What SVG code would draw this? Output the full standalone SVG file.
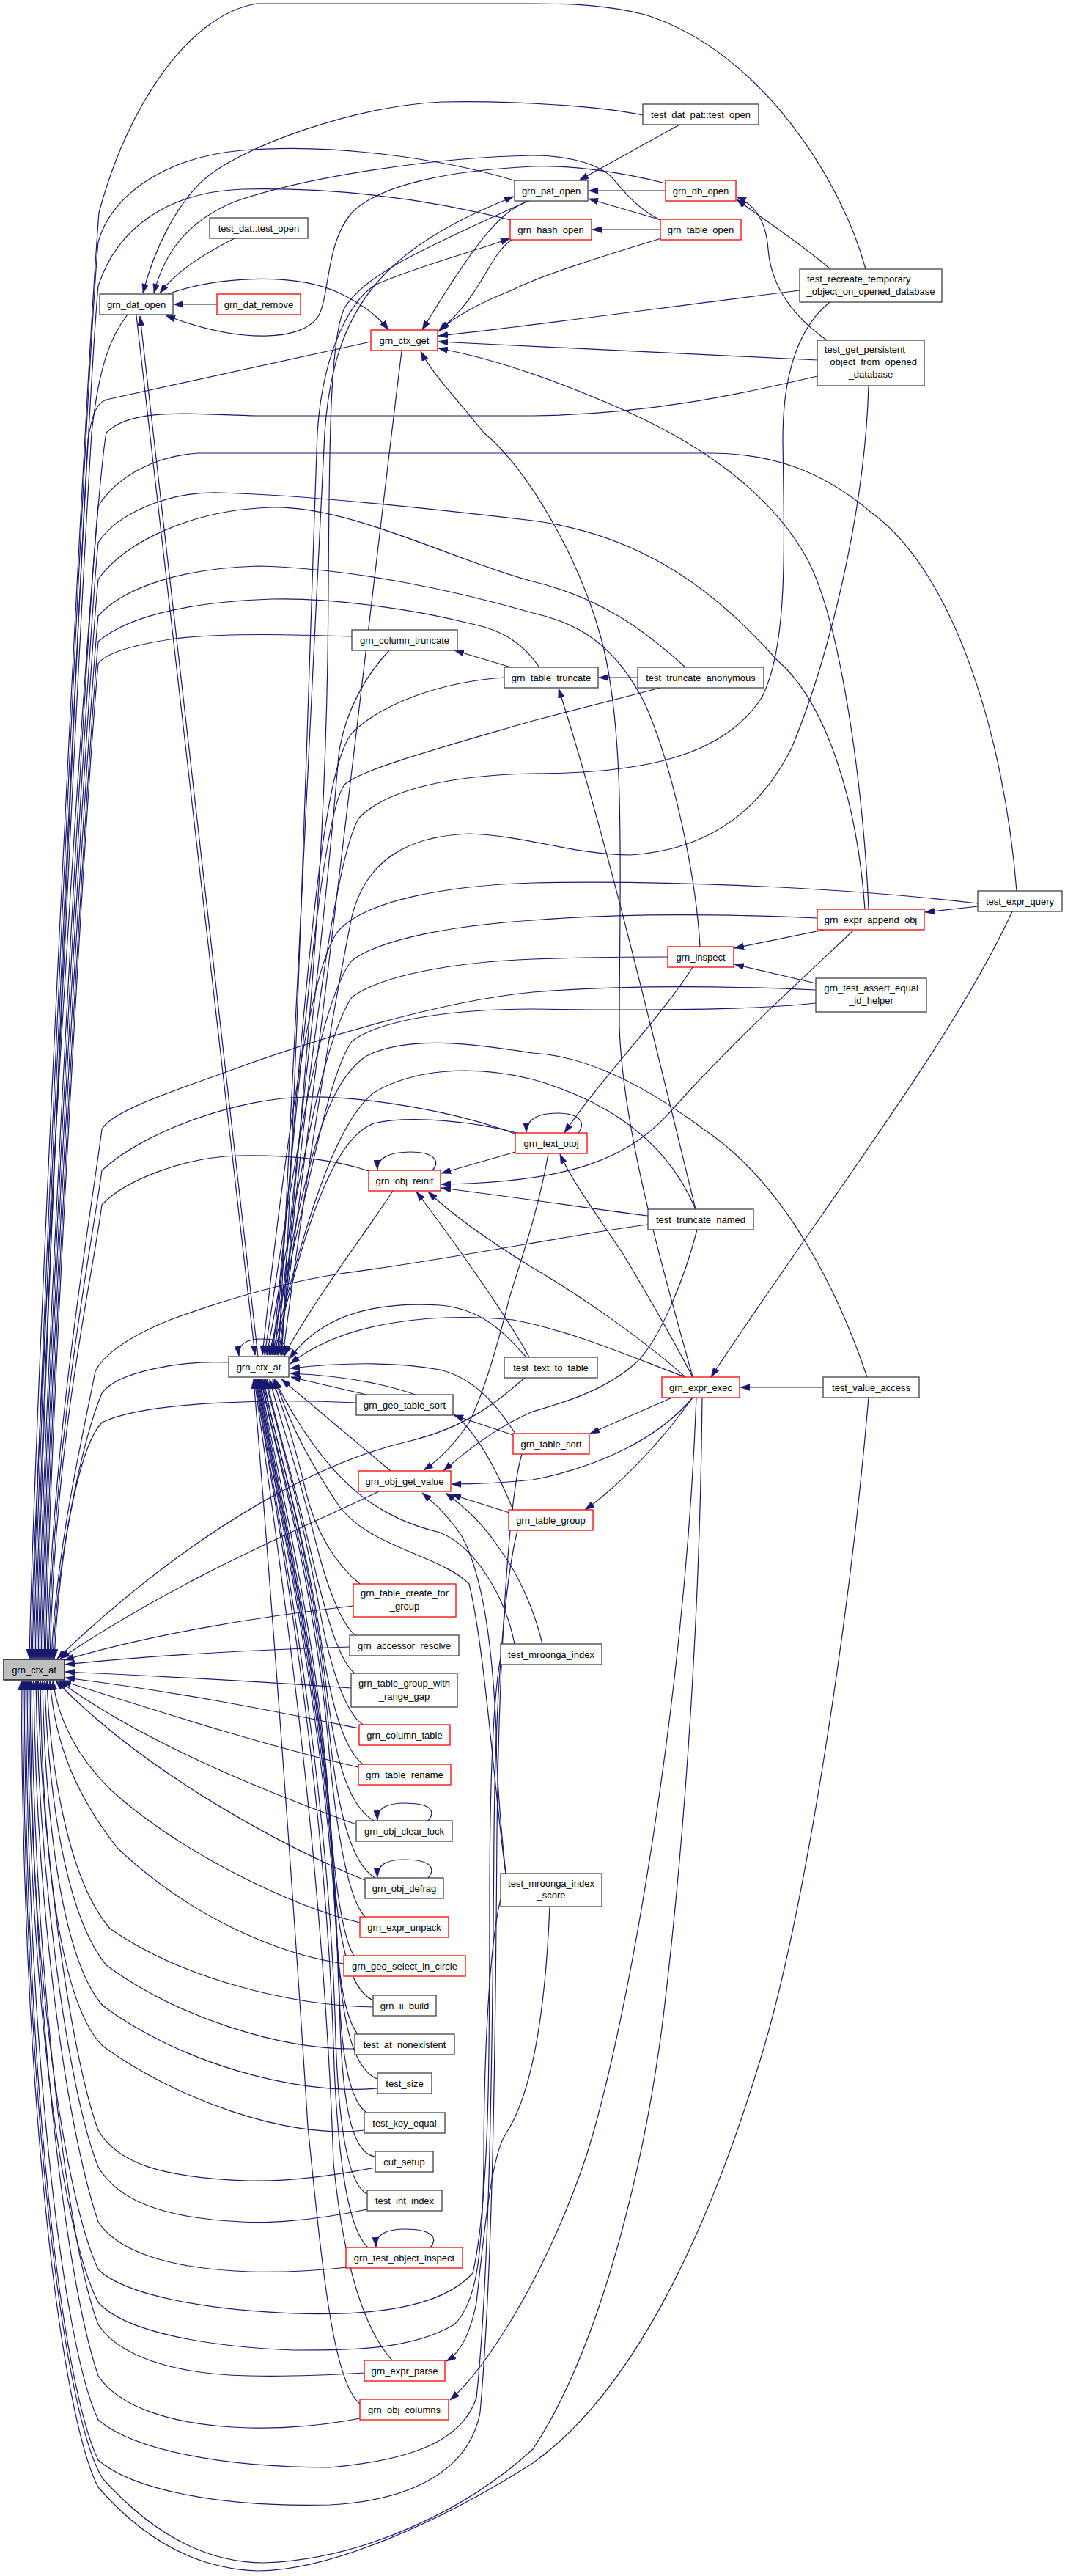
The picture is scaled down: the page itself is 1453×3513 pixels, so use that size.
<svg xmlns="http://www.w3.org/2000/svg" width="1453" height="3513" viewBox="0 0 1453 3513">
<style>
.e{fill:none;stroke:#191970;stroke-width:1.2;marker-end:url(#ah)}
.b{fill:#fff;stroke:#404040;stroke-width:1.3}
.r{fill:#fff;stroke:#ff0000;stroke-width:1.3}
.f{fill:#bfbfbf;stroke:#000;stroke-width:1.3}
text{font-family:"Liberation Sans",Arial,Helvetica,sans-serif;font-size:13px;fill:#000;text-anchor:middle}
text.s{text-anchor:start}
</style>
<defs>
<marker id="ah" markerWidth="13" markerHeight="9" refX="13" refY="4.5" orient="auto" markerUnits="userSpaceOnUse">
<path d="M0,0 L13,4.5 L0,9 z" fill="#191970" stroke="#191970" stroke-width="0.5"/>
</marker>
</defs>
<rect width="1453" height="3513" fill="#fff"/>
<g id="edges">
<!-- into focus grn_ctx_at (top side) -->
<path class="e" d="M1181,367 C1150,250 1040,70 880,20 C830,7 780,5 727,5 L350,5 C260,20 175,140 135,290 C115,540 48,1900 40,2262"/>
<path class="e" d="M1115,513 C1000,540 880,565 727,567 L350,567 C260,565 180,555 145,590 C125,700 50,1900 42,2262"/>
<path class="e" d="M705,247 C600,215 450,195 330,205 C220,215 150,270 134,330 C118,500 52,1900 44,2262"/>
<path class="e" d="M705,302 C600,275 470,255 330,258 C230,262 160,310 134,390 C118,560 54,1900 46,2262"/>
<path class="e" d="M174,429 C150,460 135,500 125,590 C112,800 56,1900 48,2262"/>
<path class="e" d="M506,466 L145,545 C130,550 125,570 120,600 C108,800 58,1900 50,2262"/>
<path class="e" d="M1387,1215 C1370,1000 1300,780 1190,700 C1120,640 1050,618 968,618 L270,618 C210,622 160,650 134,690 C118,850 60,1900 52,2262"/>
<path class="e" d="M1180,1240 C1170,1100 1130,960 1060,900 C980,810 880,730 727,710 C600,695 420,675 300,672 C230,670 160,700 134,740 C118,900 62,1900 54,2262"/>
<path class="e" d="M935,910 C880,860 820,815 727,793 C620,765 480,690 371,692 C260,695 170,740 134,790 C118,950 64,1900 56,2262"/>
<path class="e" d="M955,1291 C950,1200 920,1050 880,960 C840,880 790,850 727,836 C620,805 480,775 352,772 C250,775 170,800 134,840 C118,1000 66,1900 58,2262"/>
<path class="e" d="M736,910 C715,880 690,860 640,850 C560,830 450,815 371,817 C280,820 180,835 134,875 C118,1050 68,1900 60,2262"/>
<path class="e" d="M480,868 C420,866 300,862 232,872 C180,880 145,890 134,905 C118,1080 70,1900 62,2262"/>
<path class="e" d="M1113,1350 C1000,1345 850,1343 727,1353 C600,1365 420,1420 300,1465 C200,1500 150,1520 139,1540 C125,1650 72,1950 64,2262"/>
<path class="e" d="M705,1547 C620,1515 500,1495 417,1496 C330,1497 200,1540 139,1596 C125,1700 74,1950 66,2262"/>
<path class="e" d="M503,1597 C460,1582 400,1575 325,1576 C250,1578 170,1610 139,1643 C125,1750 76,1950 68,2262"/>
<path class="e" d="M884,1670 C800,1680 600,1720 464,1737 C380,1750 300,1775 232,1800 C170,1825 140,1850 130,1870 C115,1950 78,2100 70,2262"/>
<path class="e" d="M312,1858 C250,1855 160,1870 139,1900 C118,1950 80,2100 72,2262"/>
<path class="e" d="M486,1913 C380,1908 200,1910 139,1940 C110,1970 82,2100 74,2262"/>
<path class="e" d="M716,1879 C680,1910 640,1945 560,1965 C450,1990 280,2070 78,2262"/>
<path class="e" d="M517,2034 C400,2090 250,2150 82,2262"/>
<path class="e" d="M482,2190 C350,2205 200,2230 88,2264"/>
<path class="e" d="M477,2246 C350,2250 200,2258 89,2270"/>
<path class="e" d="M479,2302 C350,2293 200,2285 89,2280"/>
<path class="e" d="M490,2357 C380,2335 250,2308 89,2288"/>
<!-- into focus grn_ctx_at (bottom side) -->
<path class="e" d="M489,2410 C380,2385 250,2345 84,2292"/>
<path class="e" d="M486,2488 C380,2450 200,2380 80,2292"/>
<path class="e" d="M500,2565 C390,2520 200,2420 76,2292"/>
<path class="e" d="M491,2622 C400,2600 250,2530 150,2440 C110,2400 80,2350 72,2292"/>
<path class="e" d="M469,2678 C380,2665 260,2615 160,2520 C105,2450 75,2380 68,2292"/>
<path class="e" d="M509,2737 C400,2735 250,2700 150,2630 C90,2560 68,2400 64,2292"/>
<path class="e" d="M484,2794 C380,2795 240,2750 145,2680 C80,2600 64,2400 61,2292"/>
<path class="e" d="M515,2848 C400,2858 240,2810 140,2735 C75,2660 60,2420 58,2292"/>
<path class="e" d="M497,2905 C390,2918 235,2860 140,2790 C70,2720 57,2450 55,2292"/>
<path class="e" d="M512,2956 C440,2970 380,2975 340,2974 C220,2970 160,2950 134,2905 C95,2800 55,2500 52,2292"/>
<path class="e" d="M501,3013 C420,3030 360,3032 330,3030 C220,3025 160,3000 134,2955 C92,2850 52,2550 49,2292"/>
<path class="e" d="M474,3092 C420,3098 380,3099 340,3098 C230,3094 160,3070 134,3030 C90,2900 49,2600 46,2292"/>
<path class="e" d="M497,3236 C430,3240 380,3241 340,3240 C230,3238 160,3210 134,3170 C88,3050 46,2650 43,2292"/>
<path class="e" d="M491,3298 C430,3310 380,3312 340,3311 C230,3308 160,3280 134,3240 C86,3100 43,2700 41,2292"/>
<path class="e" d="M683,2260 C672,2320 668,2450 668,2600 C668,2800 668,3000 645,3100 C600,3150 500,3158 400,3155 C280,3150 170,3130 134,3095 C90,3000 42,2700 39,2292"/>
<path class="e" d="M683,2590 C668,2650 660,2800 660,2950 C658,3080 650,3140 620,3170 C560,3205 480,3205 400,3205 C280,3200 170,3180 134,3140 C88,3050 40,2750 37,2292"/>
<path class="e" d="M706,2087 C690,2150 676,2300 674,2500 C672,2800 668,3100 650,3270 C630,3330 560,3355 450,3365 C300,3365 180,3340 134,3300 C86,3200 38,2800 35,2292"/>
<path class="e" d="M712,1983 C692,2050 680,2300 678,2500 C676,2800 672,3100 655,3290 C640,3370 560,3410 450,3416 C300,3420 180,3395 134,3355 C84,3250 36,2850 33,2292"/>
<path class="e" d="M958,1906 C955,2200 935,2500 905,2750 C880,2950 820,3200 727,3340 C640,3420 500,3490 360,3495 C260,3495 185,3430 140,3380 C90,3300 34,2900 31,2292"/>
<path class="e" d="M1185,1906 C1160,2200 1100,2600 1040,2800 C980,3000 880,3250 727,3359 C600,3440 450,3506 352,3506 C250,3503 180,3445 134,3392 C86,3300 32,2900 29,2292"/>
<!-- into middle grn_ctx_at -->
<path class="e" d="M186,430 L348,1848"/>
<path class="e" d="M352,1850 L191,431"/>
<path class="e" d="M548,479 C520,700 430,1500 380,1848"/>
<path class="e" d="M1132,412 C1085,450 1068,520 1068,600 C1070,750 1075,880 1040,950 C990,1030 880,1055 727,1055 C620,1057 530,1075 490,1115 C450,1180 405,1600 383,1848"/>
<path class="e" d="M1185,526 C1180,700 1130,900 1080,1020 C1030,1120 950,1160 860,1166 C780,1165 720,1140 640,1137 C560,1140 500,1170 480,1250 C440,1450 405,1700 386,1848"/>
<path class="e" d="M531,887 C500,920 470,970 462,1030 C440,1300 400,1600 378,1848"/>
<path class="e" d="M688,924 C600,930 520,960 480,1000 C440,1050 420,1300 375,1848"/>
<path class="e" d="M901,938 L727,983 C600,1020 490,1050 470,1070 C440,1110 415,1400 372,1848"/>
<path class="e" d="M1334,1232 C1150,1210 900,1200 727,1204 C600,1208 500,1230 464,1267 C430,1300 395,1500 358,1848"/>
<path class="e" d="M1115,1252 C1000,1247 850,1245 727,1255 C620,1262 520,1280 480,1310 C440,1360 405,1550 361,1848"/>
<path class="e" d="M911,1305 C850,1305 780,1306 727,1308 C620,1312 520,1330 480,1360 C440,1420 410,1600 364,1848"/>
<path class="e" d="M1113,1368 C1020,1378 850,1378 727,1376 C620,1376 520,1390 480,1420 C445,1470 415,1650 367,1848"/>
<path class="e" d="M1183,1878 C1150,1780 1080,1620 960,1540 C880,1480 800,1440 727,1436 C650,1425 560,1410 500,1440 C440,1480 415,1600 369,1848"/>
<path class="e" d="M949,1649 C920,1580 860,1510 727,1472 C640,1450 560,1460 510,1490 C460,1530 420,1650 371,1848"/>
<path class="e" d="M705,1545 C650,1530 560,1520 510,1532 C460,1550 420,1650 374,1848"/>
<path class="e" d="M536,1624 C500,1680 430,1770 388,1848"/>
<path class="e" d="M720,274 C600,330 500,370 470,420 C445,470 450,700 447,900 C440,1300 400,1600 384,1848"/>
<path class="e" d="M718,1851 C690,1820 660,1785 600,1780 C520,1775 440,1790 395,1853"/>
<path class="e" d="M935,1878 C860,1850 780,1815 700,1800 C600,1790 470,1800 396,1860"/>
<path class="e" d="M703,1955 C680,1920 650,1880 600,1868 C530,1855 450,1860 396,1866"/>
<path class="e" d="M700,2059 C680,2010 650,1950 615,1925 C560,1890 470,1876 396,1873"/>
<path class="e" d="M500,1902 L397,1878"/>
<path class="e" d="M533,2006 L384,1881"/>
<path class="e" d="M702,2242 C690,2180 650,2110 600,2090 C520,2070 450,2030 374,1881"/>
<path class="e" d="M690,2555 C675,2450 662,2250 640,2160 C600,2120 500,2110 460,2050 C420,1990 390,1930 376,1881"/>
<path class="e" d="M491,2160 C460,2135 430,2090 417,2033 C400,1960 385,1920 372,1881"/>
<path class="e" d="M485,2230 C465,2215 445,2160 430,2100 C405,2000 380,1930 368,1881"/>
<path class="e" d="M484,2282 C462,2265 445,2200 432,2150 C405,2030 375,1940 364,1881"/>
<path class="e" d="M495,2352 C470,2335 450,2270 437,2200 C410,2050 375,1940 362,1881"/>
<path class="e" d="M495,2406 C468,2385 452,2320 440,2250 C415,2080 370,1950 360,1881"/>
<path class="e" d="M510,2483 C470,2460 455,2380 445,2300 C420,2100 372,1950 358,1881"/>
<path class="e" d="M512,2561 C475,2540 458,2450 448,2350 C425,2120 370,1960 357,1881"/>
<path class="e" d="M498,2614 C475,2590 460,2500 450,2400 C430,2150 370,1960 356,1881"/>
<path class="e" d="M483,2667 C465,2640 455,2550 448,2450 C430,2200 368,1970 355,1881"/>
<path class="e" d="M509,2728 C470,2710 458,2620 452,2500 C435,2250 368,1980 354,1881"/>
<path class="e" d="M488,2774 C465,2745 458,2660 455,2550 C440,2280 366,1980 353,1881"/>
<path class="e" d="M515,2835 C475,2820 462,2730 458,2600 C445,2300 366,1985 352,1881"/>
<path class="e" d="M500,2881 C470,2860 463,2770 460,2650 C448,2320 365,1990 351,1881"/>
<path class="e" d="M512,2941 C480,2938 465,2870 463,2720 C452,2350 365,1995 350,1881"/>
<path class="e" d="M501,2992 C475,2980 462,2900 458,2780 C448,2380 365,2000 349,1881"/>
<path class="e" d="M502,3065 C475,3040 462,2950 456,2820 C445,2400 365,2000 348,1881"/>
<path class="e" d="M535,3219 C500,3180 470,3100 455,2950 C440,2500 370,2050 347,1881"/>
<path class="e" d="M491,3278 C455,3250 440,3100 420,2900 C395,2500 360,2050 346,1881"/>
<path class="e" d="M388,1850 C395,1836 388,1826 358,1826 C335,1826 324,1834 326,1849"/>
<!-- from middle grn_ctx_at -->
<path class="e" d="M380,1849 C400,1500 430,800 443,590 C455,420 520,340 701,268"/>
<path class="e" d="M384,1849 C405,1500 425,800 433,590 C440,480 480,400 520,385 C580,360 640,345 696,325"/>
<!-- into grn_ctx_get -->
<path class="e" d="M229,401 C290,378 400,370 464,400 C495,415 515,430 530,450"/>
<path class="e" d="M722,274 C690,285 660,310 576,450"/>
<path class="e" d="M698,327 C665,350 660,400 600,450"/>
<path class="e" d="M902,325 C820,350 740,375 700,395 C650,415 620,432 598,452"/>
<path class="e" d="M1091,396 C900,420 720,445 598,458"/>
<path class="e" d="M1115,491 C900,482 700,470 598,466"/>
<path class="e" d="M1185,1240 C1180,1100 1150,850 1100,760 C1050,670 950,600 830,550 C760,520 680,490 598,475"/>
<path class="e" d="M945,1878 C910,1750 850,1550 845,1400 C845,1200 855,1000 820,870 C790,760 720,640 660,590 C620,540 590,510 574,479"/>
<!-- into grn_dat_open -->
<path class="e" d="M877,157 C820,145 700,137 603,139 C480,145 330,200 278,245 C240,280 210,340 195,400"/>
<path class="e" d="M901,300 C870,285 850,260 835,242 C810,218 760,212 727,212 C600,214 420,240 320,275 C260,300 225,340 210,400"/>
<path class="e" d="M908,250 C850,235 780,225 727,227 C620,232 520,250 480,290 C445,330 450,400 435,430 C415,465 330,470 226,430"/>
<path class="e" d="M320,325 C280,345 240,370 218,400"/>
<path class="e" d="M296,415 L237,415"/>
<!-- top cluster -->
<path class="e" d="M927,170 L790,246"/>
<path class="e" d="M908,260 L803,260"/>
<path class="e" d="M902,300 L803,271"/>
<path class="e" d="M901,313 L808,313"/>
<path class="e" d="M1133,367 C1090,330 1050,305 1005,272"/>
<path class="e" d="M1128,464 C1080,430 1052,390 1048,340 C1045,300 1030,280 1005,268"/>
<!-- truncate cluster -->
<path class="e" d="M697,910 L620,887"/>
<path class="e" d="M870,924 L817,924"/>
<path class="e" d="M949,1649 C900,1450 830,1150 762,939"/>
<!-- expr cluster -->
<path class="e" d="M1334,1236 L1262,1244"/>
<path class="e" d="M1381,1243 C1300,1420 1120,1650 970,1878"/>
<path class="e" d="M1124,1268 L1002,1293"/>
<path class="e" d="M1113,1341 L1002,1315"/>
<path class="e" d="M945,1319 C900,1390 820,1470 770,1545"/>
<path class="e" d="M1123,1892 L1010,1892"/>
<!-- into grn_obj_reinit -->
<path class="e" d="M703,1571 L602,1600"/>
<path class="e" d="M1164,1269 C1100,1330 1000,1420 920,1510 C860,1580 780,1612 602,1615"/>
<path class="e" d="M884,1658 C820,1650 720,1635 602,1620"/>
<path class="e" d="M722,1851 C700,1810 640,1720 568,1625"/>
<path class="e" d="M935,1878 C870,1820 780,1760 727,1729 C680,1700 620,1660 584,1625"/>
<path class="e" d="M590,1596 C600,1585 595,1571 560,1571 C530,1571 514,1580 515,1595"/>
<!-- grn_text_otoj -->
<path class="e" d="M789,1545 C800,1530 790,1518 760,1518 C735,1518 718,1526 718,1544"/>
<path class="e" d="M945,1878 C920,1830 880,1760 850,1710 C810,1650 780,1610 764,1574"/>
<!-- sort / group / get_value -->
<path class="e" d="M700,1957 L619,1930"/>
<path class="e" d="M917,1906 L805,1955"/>
<path class="e" d="M945,1906 C900,1970 840,2030 798,2059"/>
<path class="e" d="M945,1906 C900,1960 820,2000 727,2018 C680,2023 650,2024 616,2024"/>
<path class="e" d="M951,1677 C935,1740 900,1830 866,1860 C820,1900 760,1915 727,1925 C680,1945 640,1975 605,2006"/>
<path class="e" d="M748,1573 C735,1650 710,1720 695,1770 C680,1830 660,1900 640,1940 C620,1970 600,1990 578,2005"/>
<path class="e" d="M695,2063 L616,2038"/>
<path class="e" d="M740,2242 C730,2200 710,2150 680,2110 C660,2080 640,2060 608,2036"/>
<path class="e" d="M690,2555 C682,2480 677,2420 677,2360 C672,2250 660,2150 630,2095 C610,2065 590,2048 576,2036"/>
<!-- expr_parse / obj_columns -->
<path class="e" d="M750,2600 C745,2720 730,2850 690,2910 C670,2940 660,3050 650,3140 C640,3190 625,3210 609,3220"/>
<path class="e" d="M950,1906 C935,2300 860,2750 800,2940 C770,3030 730,3110 700,3160 C670,3210 640,3250 614,3273"/>
<!-- self loops -->
<path class="e" d="M584,2483 C595,2470 588,2459 552,2459 C528,2459 514,2466 515,2482"/>
<path class="e" d="M584,2561 C595,2548 588,2536 552,2536 C528,2536 514,2543 515,2560"/>
<path class="e" d="M587,3065 C598,3052 590,3040 552,3040 C528,3040 512,3047 513,3064"/>
</g>
<g id="nodes">
<g id="n0"><rect class="f" x="5" y="2263" width="83" height="28"/><text x="46.5" y="2281.5">grn_ctx_at</text></g>
<g id="n1"><rect class="b" x="136" y="401" width="100" height="28"/><text x="186" y="419.5">grn_dat_open</text></g>
<g id="n2"><rect class="b" x="286" y="297" width="134" height="28"/><text x="353" y="315.5">test_dat::test_open</text></g>
<g id="n3"><rect class="r" x="296" y="401" width="114" height="28"/><text x="353" y="419.5">grn_dat_remove</text></g>
<g id="n4"><rect class="r" x="506" y="450" width="91" height="28"/><text x="551.5" y="468.5">grn_ctx_get</text></g>
<g id="n5"><rect class="b" x="702" y="246" width="100" height="28"/><text x="752" y="264.5">grn_pat_open</text></g>
<g id="n6"><rect class="r" x="696" y="299" width="111" height="28"/><text x="751.5" y="317.5">grn_hash_open</text></g>
<g id="n7"><rect class="b" x="877" y="142" width="158" height="28"/><text x="956" y="160.5">test_dat_pat::test_open</text></g>
<g id="n8"><rect class="r" x="908" y="246" width="96" height="28"/><text x="956" y="264.5">grn_db_open</text></g>
<g id="n9"><rect class="r" x="901" y="299" width="110" height="28"/><text x="956" y="317.5">grn_table_open</text></g>
<g id="n10"><rect class="b" x="1091" y="367" width="194" height="45"/><text class="s" x="1101" y="385">test_recreate_temporary</text><text x="1188" y="401.5">_object_on_opened_database</text></g>
<g id="n11"><rect class="b" x="1115" y="464" width="146" height="62"/><text class="s" x="1125" y="481">test_get_persistent</text><text x="1188" y="498">_object_from_opened</text><text x="1188" y="515">_database</text></g>
<g id="n12"><rect class="b" x="480" y="859" width="144" height="28"/><text x="552" y="877.5">grn_column_truncate</text></g>
<g id="n13"><rect class="b" x="688" y="910" width="128" height="28"/><text x="752" y="928.5">grn_table_truncate</text></g>
<g id="n14"><rect class="b" x="870" y="910" width="172" height="28"/><text x="956" y="928.5">test_truncate_anonymous</text></g>
<g id="n15"><rect class="b" x="1334" y="1215" width="115" height="28"/><text x="1391.5" y="1233.5">test_expr_query</text></g>
<g id="n16"><rect class="r" x="1115" y="1240" width="146" height="28"/><text x="1188" y="1258.5">grn_expr_append_obj</text></g>
<g id="n17"><rect class="r" x="911" y="1291" width="90" height="28"/><text x="956" y="1309.5">grn_inspect</text></g>
<g id="n18"><rect class="b" x="1113" y="1334" width="151" height="46"/><text x="1188.5" y="1352">grn_test_assert_equal</text><text x="1188.5" y="1369">_id_helper</text></g>
<g id="n19"><rect class="r" x="703" y="1545" width="98" height="28"/><text x="752" y="1563.5">grn_text_otoj</text></g>
<g id="n20"><rect class="r" x="503" y="1596" width="98" height="28"/><text x="552" y="1614.5">grn_obj_reinit</text></g>
<g id="n21"><rect class="b" x="884" y="1649" width="144" height="28"/><text x="956" y="1667.5">test_truncate_named</text></g>
<g id="n22"><rect class="b" x="312" y="1850" width="82" height="28"/><text x="353" y="1868.5">grn_ctx_at</text></g>
<g id="n23"><rect class="b" x="688" y="1851" width="127" height="28"/><text x="751.5" y="1869.5">test_text_to_table</text></g>
<g id="n24"><rect class="r" x="903" y="1878" width="106" height="28"/><text x="956" y="1896.5">grn_expr_exec</text></g>
<g id="n25"><rect class="b" x="1123" y="1878" width="131" height="28"/><text x="1188.5" y="1896.5">test_value_access</text></g>
<g id="n26"><rect class="b" x="486" y="1902" width="132" height="28"/><text x="552" y="1920.5">grn_geo_table_sort</text></g>
<g id="n27"><rect class="r" x="700" y="1955" width="104" height="28"/><text x="752" y="1973.5">grn_table_sort</text></g>
<g id="n28"><rect class="r" x="489" y="2006" width="126" height="28"/><text x="552" y="2024.5">grn_obj_get_value</text></g>
<g id="n29"><rect class="r" x="694" y="2059" width="115" height="28"/><text x="751.5" y="2077.5">grn_table_group</text></g>
<g id="n30"><rect class="r" x="482" y="2160" width="140" height="45"/><text x="552" y="2177">grn_table_create_for</text><text x="552" y="2195">_group</text></g>
<g id="n31"><rect class="b" x="477" y="2230" width="149" height="28"/><text x="551.5" y="2248.5">grn_accessor_resolve</text></g>
<g id="n32"><rect class="b" x="683" y="2242" width="138" height="28"/><text x="752" y="2260.5">test_mroonga_index</text></g>
<g id="n33"><rect class="b" x="479" y="2282" width="145" height="46"/><text x="551.5" y="2300">grn_table_group_with</text><text x="551.5" y="2317.5">_range_gap</text></g>
<g id="n34"><rect class="r" x="490" y="2352" width="124" height="28"/><text x="552" y="2370.5">grn_column_table</text></g>
<g id="n35"><rect class="r" x="489" y="2406" width="126" height="28"/><text x="552" y="2424.5">grn_table_rename</text></g>
<g id="n36"><rect class="b" x="486" y="2483" width="131" height="28"/><text x="551.5" y="2501.5">grn_obj_clear_lock</text></g>
<g id="n37"><rect class="b" x="498" y="2561" width="107" height="28"/><text x="551.5" y="2579.5">grn_obj_defrag</text></g>
<g id="n38"><rect class="b" x="683" y="2555" width="138" height="45"/><text x="752" y="2572.5">test_mroonga_index</text><text x="752" y="2589">_score</text></g>
<g id="n39"><rect class="r" x="491" y="2614" width="121" height="28"/><text x="551.5" y="2632.5">grn_expr_unpack</text></g>
<g id="n40"><rect class="r" x="469" y="2667" width="166" height="28"/><text x="552" y="2685.5">grn_geo_select_in_circle</text></g>
<g id="n41"><rect class="b" x="509" y="2721" width="86" height="28"/><text x="552" y="2739.5">grn_ii_build</text></g>
<g id="n42"><rect class="b" x="484" y="2774" width="136" height="28"/><text x="552" y="2792.5">test_at_nonexistent</text></g>
<g id="n43"><rect class="b" x="515" y="2827" width="74" height="28"/><text x="552" y="2845.5">test_size</text></g>
<g id="n44"><rect class="b" x="497" y="2881" width="110" height="28"/><text x="552" y="2899.5">test_key_equal</text></g>
<g id="n45"><rect class="b" x="512" y="2934" width="79" height="28"/><text x="551.5" y="2952.5">cut_setup</text></g>
<g id="n46"><rect class="b" x="501" y="2987" width="102" height="28"/><text x="552" y="3005.5">test_int_index</text></g>
<g id="n47"><rect class="r" x="472" y="3065" width="159" height="28"/><text x="551.5" y="3083.5">grn_test_object_inspect</text></g>
<g id="n48"><rect class="r" x="497" y="3219" width="110" height="28"/><text x="552" y="3237.5">grn_expr_parse</text></g>
<g id="n49"><rect class="r" x="491" y="3272" width="121" height="28"/><text x="551.5" y="3290.5">grn_obj_columns</text></g>
</g>
</svg>
